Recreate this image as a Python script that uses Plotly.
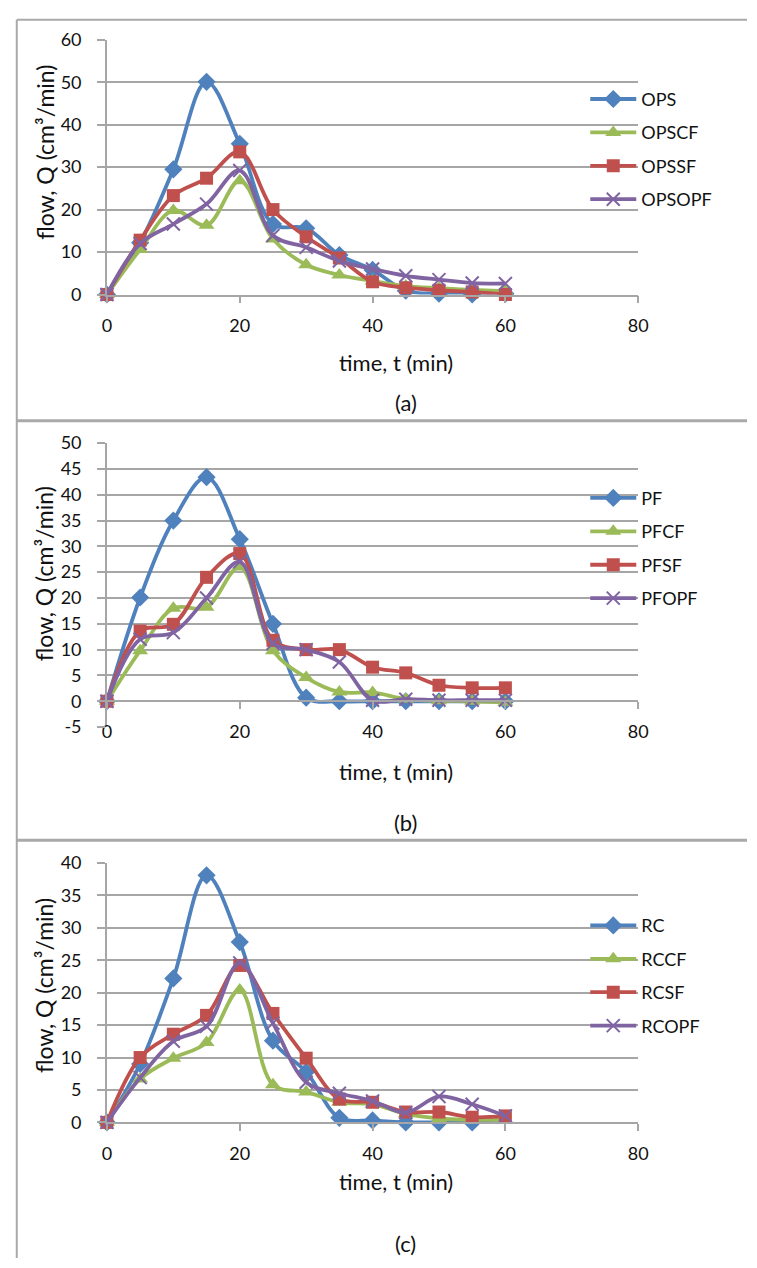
import plotly.graph_objects as go

# ---------------- data ----------------
t = [0, 5, 10, 15, 20, 25, 30, 35, 40, 45, 50, 55, 60]

names_a = ["OPS", "OPSCF", "OPSSF", "OPSOPF"]
OPS    = [0, 12.2, 29.5, 50.1, 35.5, 16.6, 15.6, 9.3, 5.8, 0.9, 0.2, 0.0, 0.2]
OPSCF  = [0, 10.6, 19.8, 16.3, 26.8, 13.1, 7.0, 4.6, 3.2, 2.0, 1.5, 1.1, 0.8]
OPSSF  = [0, 12.8, 23.3, 27.4, 33.6, 20.0, 13.6, 8.6, 3.0, 1.6, 1.0, 0.6, 0.0]
OPSOPF = [0, 12.0, 16.6, 21.3, 29.2, 13.9, 11.1, 7.9, 6.0, 4.4, 3.5, 2.7, 2.6]

names_b = ["PF", "PFCF", "PFSF", "PFOPF"]
PF    = [0, 20.1, 35.0, 43.4, 31.4, 15.0, 0.7, 0.0, 0.0, 0.0, 0.0, 0.0, 0.0]
PFCF  = [0, 9.8, 18.0, 18.2, 26.0, 9.8, 4.6, 1.8, 1.7, 0.4, 0.1, 0.0, -0.2]
PFSF  = [0, 13.6, 14.9, 24.0, 28.6, 11.8, 10.0, 10.0, 6.6, 5.5, 3.1, 2.6, 2.6]
PFOPF = [0, 12.0, 13.3, 20.0, 27.0, 11.2, 10.0, 7.6, 0.2, 0.4, 0.2, 0.2, 0.2]

names_c = ["RC", "RCCF", "RCSF", "RCOPF"]
RC    = [0, 9.0, 22.2, 38.1, 27.8, 12.6, 7.8, 0.7, 0.3, 0.0, 0.0, 0.0, -0.2]
RCCF  = [0, 6.7, 9.9, 12.3, 20.4, 5.8, 4.7, 3.1, 2.8, 1.3, 0.6, 0.4, 0.4]
RCSF  = [0, 10.0, 13.6, 16.5, 24.2, 16.8, 9.9, 3.6, 3.1, 1.6, 1.6, 0.8, 1.0]
RCOPF = [0, 6.9, 12.5, 14.8, 24.6, 15.3, 6.2, 4.5, 3.3, 1.5, 4.0, 2.8, 1.0]

x_ticks = [0, 20, 40, 60, 80]
y_ticks_a = [0, 10, 20, 30, 40, 50, 60]
y_ticks_b = [-5, 0, 5, 10, 15, 20, 25, 30, 35, 40, 45, 50]
y_ticks_c = [0, 5, 10, 15, 20, 25, 30, 35, 40]
y_ticktext_b = ["-5"] + [str(v) for v in y_ticks_b[1:]]

panel_labels = ["(a)", "(b)", "(c)"]
x_title = "time, t (min)"
y_title = "flow, Q (cm³/min)"

# ---------------- style ----------------
W, H = 757, 1268
FONT = "Lato"
GRID = "#a6a6a6"
TXT = "#111111"
colors = ["#4F81BD", "#9BBB59", "#C0504D", "#8064A2"]
symbols = ["diamond", "triangle-up", "square", "x-thin"]
msizes = [14, 14, 13, 13]


def px_x(p):
    return p / W


def px_y(p):
    return 1 - p / H


fig = go.Figure()

panels = [
    dict(names=names_a, series=[OPS, OPSCF, OPSSF, OPSOPF], top=28.3, bottom=287.5,
         yr=[0, 60], yt=y_ticks_a, ytt=[str(v) for v in y_ticks_a], zero_px=287.5,
         leg_top=70, xt_y=357, lab_y=397, yt_y=143),
    dict(names=names_b, series=[PF, PFCF, PFSF, PFOPF], top=438.7, bottom=727.7,
         yr=[-5, 50], yt=y_ticks_b, ytt=y_ticktext_b, zero_px=701.5,
         leg_top=476, xt_y=773, lab_y=825, yt_y=572),
    dict(names=names_c, series=[RC, RCCF, RCSF, RCOPF], top=866, bottom=1130,
         yr=[0, 40], yt=y_ticks_c, ytt=[str(v) for v in y_ticks_c], zero_px=1130,
         leg_top=911, xt_y=1190, lab_y=1253, yt_y=991),
]

x0_px, x1_px = 104, 646

layout_axes = {}
annotations = []
for i, p in enumerate(panels):
    k = "" if i == 0 else str(i + 1)
    xa, ya = "x" + k, "y" + k
    leg = "legend" + k
    for j, (nm, vals) in enumerate(zip(p["names"], p["series"])):
        fig.add_trace(go.Scatter(
            x=t, y=vals, name=nm, mode="lines+markers",
            xaxis=xa, yaxis=ya, legend=leg, legendgroup=nm,
            line=dict(color=colors[j], width=3.8, shape="spline", smoothing=1.0),
            marker=dict(symbol=symbols[j], size=msizes[j], color=colors[j],
                        line=dict(color=colors[j], width=2 if j == 3 else 0)),
            cliponaxis=False,
        ))
    xax = dict(
        domain=[px_x(x0_px), px_x(x1_px)], range=[0, 80],
        tickvals=x_ticks, ticktext=[str(v) for v in x_ticks],
        showgrid=False, zeroline=False, showline=True, linecolor=GRID, linewidth=1.6,
        ticks="outside", ticklen=7, tickwidth=1.6, tickcolor=GRID,
        tickfont=dict(family=FONT, size=18, color=TXT),
        ticklabelstandoff=7, fixedrange=True,
    )
    if i == 1:
        xax.update(anchor="free", position=px_y(p["zero_px"]))
    else:
        xax.update(anchor=ya)
    layout_axes["xaxis" + k] = xax
    layout_axes["yaxis" + k] = dict(
        domain=[px_y(p["bottom"]), px_y(p["top"])], range=p["yr"],
        tickvals=p["yt"], ticktext=p["ytt"],
        showgrid=True, gridcolor=GRID, gridwidth=1.6,
        zeroline=False, showline=True, linecolor=GRID, linewidth=1.6,
        ticks="outside", ticklen=8, tickwidth=1.6, tickcolor=GRID,
        tickfont=dict(family=FONT, size=18, color=TXT),
        ticklabelstandoff=12, anchor=xa, fixedrange=True,
    )
    layout_axes[leg] = dict(
        x=px_x(592), y=px_y(p["leg_top"]), xanchor="left", yanchor="top",
        bgcolor="rgba(0,0,0,0)", font=dict(family=FONT, size=18, color=TXT),
        itemwidth=46, tracegroupgap=7, traceorder="grouped",
    )
    common = dict(xref="paper", yref="paper", showarrow=False,
                  xanchor="center", yanchor="middle")
    annotations += [
        dict(text=x_title, x=px_x(399), y=px_y(p["xt_y"]),
             font=dict(family=FONT, size=22, color=TXT), **common),
        dict(text=panel_labels[i], x=px_x(409), y=px_y(p["lab_y"]),
             font=dict(family=FONT, size=22, color=TXT), **common),
        dict(text=y_title, x=px_x(40), y=px_y(p["yt_y"]), textangle=-90,
             font=dict(family=FONT, size=23, color=TXT), **common),
    ]

BORDER = "#a9a9a9"
shapes = [
    dict(type="line", xref="paper", yref="paper", x0=px_x(12), x1=1, y0=px_y(8), y1=px_y(8),
         line=dict(color=BORDER, width=2)),
    dict(type="line", xref="paper", yref="paper", x0=px_x(12), x1=px_x(12), y0=px_y(8), y1=0,
         line=dict(color=BORDER, width=2)),
    dict(type="line", xref="paper", yref="paper", x0=px_x(12), x1=1, y0=px_y(416), y1=px_y(416),
         line=dict(color=BORDER, width=3)),
    dict(type="line", xref="paper", yref="paper", x0=px_x(12), x1=1, y0=px_y(843), y1=px_y(843),
         line=dict(color=BORDER, width=3)),
]

fig.update_layout(
    width=W, height=H, margin=dict(l=0, r=0, t=0, b=0),
    paper_bgcolor="white", plot_bgcolor="white",
    showlegend=True, annotations=annotations, shapes=shapes,
    font=dict(family=FONT, size=18, color=TXT),
    **layout_axes,
)

fig.write_html(
    "out.html",
    config={"displayModeBar": False},
    post_script=(
        "document.documentElement.style.margin='0';"
        "document.documentElement.style.overflow='hidden';"
        "document.body.style.margin='0';document.body.style.padding='0';"
        "document.body.style.overflow='hidden';"
        "var d=document.getElementById('{plot_id}');"
        "d.style.position='fixed';d.style.left='0px';d.style.top='0px';"
    ),
)
